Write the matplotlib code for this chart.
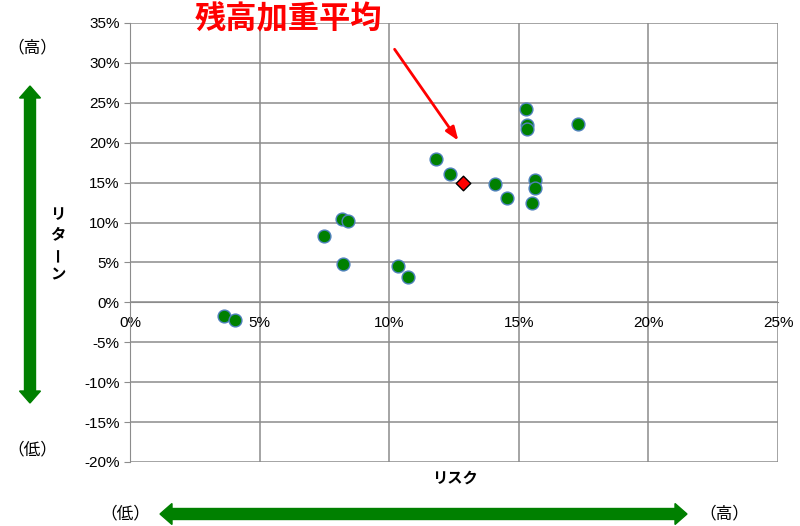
import numpy as np
import matplotlib
matplotlib.use("Agg")
import matplotlib.pyplot as plt
from matplotlib.patches import Polygon
from matplotlib.ticker import FuncFormatter

plt.rcParams['font.family'] = ['Liberation Sans', 'Noto Sans CJK JP']

# risk / return of each fund (%)
risk = [3.63, 4.05, 7.48, 8.18, 8.41, 8.22, 10.34, 10.73, 11.80, 12.35,
        14.08, 14.54, 15.28, 15.32, 15.32, 15.62, 15.62, 15.50, 17.28]
ret = [-1.7, -2.2, 8.3, 10.4, 10.2, 4.8, 4.6, 3.2, 18.0, 16.1,
       14.8, 13.1, 24.2, 22.2, 21.7, 15.3, 14.3, 12.4, 22.4]
# balance-weighted average
avg_risk = [12.85]
avg_ret = [15.0]

x_ticks = [0, 5, 10, 15, 20, 25]
y_ticks = [-20, -15, -10, -5, 0, 5, 10, 15, 20, 25, 30, 35]

W, H = 800, 526
fig = plt.figure(figsize=(W / 100, H / 100), dpi=100)
ax = fig.add_axes([130 / W, 1 - 462 / H, 648 / W, 439 / H])

ax.set_xlim(0, 25)
ax.set_ylim(-20, 35)
ax.set_xticks(x_ticks)
ax.set_yticks(y_ticks)
pct = FuncFormatter(lambda v, p: '%d%%' % v)
ax.xaxis.set_major_formatter(pct)
ax.yaxis.set_major_formatter(pct)
ax.grid(True, color='#8c8c8c', lw=1.1)
ax.set_axisbelow(True)

for s in ['top', 'right']:
    ax.spines[s].set_visible(False)
ax.spines['left'].set_color('#8c8c8c')
ax.spines['bottom'].set_color('#8c8c8c')
ax.spines['bottom'].set_position(('data', 0))
ax.tick_params(axis='both', colors='#8c8c8c', labelcolor='black',
               labelsize=11, length=4)
ax.tick_params(axis='x', pad=10, length=0)

ax.scatter(risk, ret, s=85, c='#008000', edgecolors='#4f81bd', linewidths=1, zorder=3)
ax.scatter(avg_risk, avg_ret, s=55, marker='D', c='#ff0000', edgecolors='black',
           linewidths=1, zorder=4)


def px(x, y):
    # figure pixel (top-left origin) -> figure fraction
    return x / W, 1 - y / H


# title + arrow
fig.text(*px(288, 19), '残高加重平均', color='#ff0000', fontsize=22.5, fontweight='bold',
         ha='center', va='center', family=['Noto Sans CJK JP'])
ax.annotate('', xy=px(460, 143), xytext=px(393, 47), xycoords='figure fraction',
            textcoords='figure fraction',
            arrowprops=dict(arrowstyle='-|>,head_length=0.8,head_width=0.3',
                            color='#ff0000', lw=2))

# axis titles
jp = ['Noto Sans CJK JP']
fig.text(*px(455, 478), 'リスク', fontsize=11, fontweight='bold', ha='center', va='center', family=jp)
for i, ch in enumerate(['リ', 'タ', 'ー', 'ン']):
    fig.text(*px(58, 214 + i * 20), ch, fontsize=11, fontweight='bold', ha='center',
             va='center', family=jp, rotation=90 if ch == 'ー' else 0)

for (x, y, t) in [(32, 48, '（高）'), (32, 450, '（低）'), (125, 514, '（低）'), (724, 514, '（高）')]:
    fig.text(*px(x, y), t, fontsize=12, ha='center', va='center', family=jp)


def double_arrow(x0, y0, x1, y1, hw=5.5, head=10.5, hl=12):
    # polygon for a double-headed arrow in figure pixels
    p0, p1 = np.array([x0, y0], float), np.array([x1, y1], float)
    d = (p1 - p0) / np.hypot(*(p1 - p0))
    n = np.array([-d[1], d[0]])
    a, b = p0 + d * hl, p1 - d * hl
    pts = [p0, a + n * head, a + n * hw, b + n * hw, b + n * head, p1,
           b - n * head, b - n * hw, a - n * hw, a - n * head]
    pts = [px(*q) for q in pts]
    return Polygon(pts, closed=True, transform=fig.transFigure, color='#008000')


fig.patches.append(double_arrow(30, 86, 30, 403))
fig.patches.append(double_arrow(160, 514, 687, 514))

fig.savefig('out.png', dpi=100)
